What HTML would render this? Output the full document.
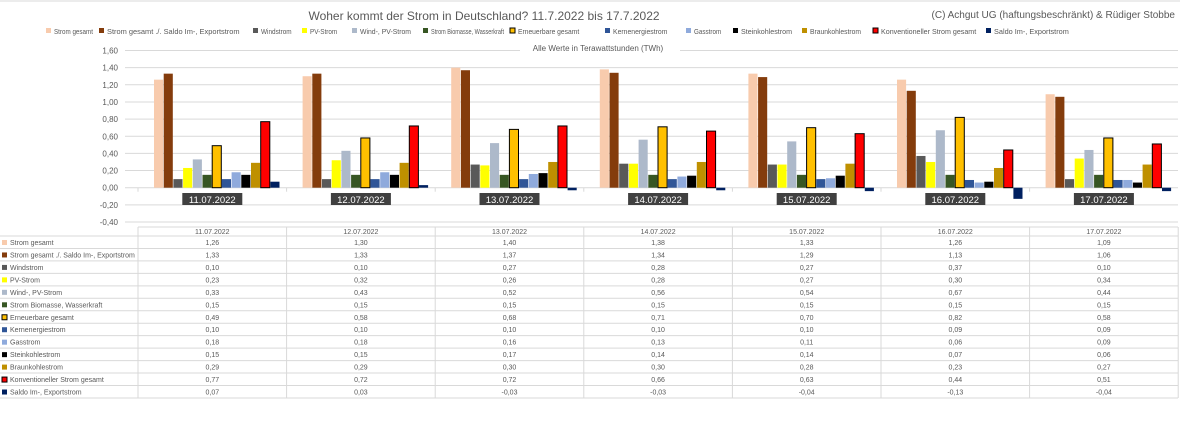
<!DOCTYPE html>
<html><head><meta charset="utf-8"><style>
body{margin:0;background:#fff;width:1180px;height:417px;overflow:hidden;font-family:"Liberation Sans",sans-serif}
svg text{font-family:"Liberation Sans",sans-serif}
</style></head><body>
<svg id="s" width="1180" height="417" xmlns="http://www.w3.org/2000/svg"></svg>
<script>
const S=document.getElementById('s');let h='';
h+='<rect x="0" y="0" width="1180" height="417" fill="#fff"/><line x1="0" y1="1" x2="1180" y2="1" stroke="#d9d9d9"/>';
h+='<text x="484" y="20" font-size="12" fill="#595959" text-anchor="middle">Woher kommt der Strom in Deutschland? 11.7.2022 bis 17.7.2022</text>';
h+='<text x="1175" y="18" font-size="10" fill="#595959" text-anchor="end">(C) Achgut UG (haftungsbeschränkt) &amp; Rüdiger Stobbe</text>';
const ser=[["Strom gesamt","#F8CBAD",0],["Strom gesamt ./. Saldo Im-, Exportstrom","#843C0C",0],["Windstrom","#595959",0],["PV-Strom","#FFFF00",0],["Wind-, PV-Strom","#ADB9CA",0],["Strom Biomasse, Wasserkraft","#375623",0],["Erneuerbare gesamt","#FFC000",1],["Kernenergiestrom","#2F5597",0],["Gasstrom","#8FAADC",0],["Steinkohlestrom","#000000",0],["Braunkohlestrom","#BF9000",0],["Konventioneller Strom gesamt","#FF0000",1],["Saldo Im-, Exportstrom","#002060",0]];
const data=[[1.26,1.30,1.40,1.38,1.33,1.26,1.09],[1.33,1.33,1.37,1.34,1.29,1.13,1.06],[0.10,0.10,0.27,0.28,0.27,0.37,0.10],[0.23,0.32,0.26,0.28,0.27,0.30,0.34],[0.33,0.43,0.52,0.56,0.54,0.67,0.44],[0.15,0.15,0.15,0.15,0.15,0.15,0.15],[0.49,0.58,0.68,0.71,0.70,0.82,0.58],[0.10,0.10,0.10,0.10,0.10,0.09,0.09],[0.18,0.18,0.16,0.13,0.11,0.06,0.09],[0.15,0.15,0.17,0.14,0.14,0.07,0.06],[0.29,0.29,0.30,0.30,0.28,0.23,0.27],[0.77,0.72,0.72,0.66,0.63,0.44,0.51],[0.07,0.03,-0.03,-0.03,-0.04,-0.13,-0.04]];
const dates=["11.07.2022","12.07.2022","13.07.2022","14.07.2022","15.07.2022","16.07.2022","17.07.2022"];
const lx=[46,99,253,302,352,423,510,605,686,733,802,873,986];
ser.forEach((s,i)=>{const tl=Math.min(s[0].length*3.4,(i<12?lx[i+1]-lx[i]-14:200));h+=`<rect x="${lx[i]}" y="28" width="5" height="5" fill="${s[1]}" ${s[2]?'stroke="#000" stroke-width="1"':''}/><text x="${lx[i]+8}" y="34" font-size="7.5" fill="#595959" textLength="${tl}" lengthAdjust="spacingAndGlyphs">${s[0]}</text>`});
const z=187.7,u=17.15/0.2;
for(let k=-2;k<=8;k++){const v=k*0.2,y=z-v*u;h+=`<line x1="125" y1="${y}" x2="1178" y2="${y}" stroke="#d9d9d9" stroke-width="1"/><text x="118" y="${y+3}" font-size="8" fill="#595959" text-anchor="end">${v.toFixed(2).replace('.',',').replace('-0,00','0,00')}</text>`;}
h+='<rect x="520" y="42" width="160" height="10" fill="#fff"/><text x="598" y="51" font-size="8" fill="#595959" text-anchor="middle">Alle Werte in Terawattstunden (TWh)</text>';
const g0=138,gw=148.6,bw=9.7;
for(let d=0;d<7;d++){const gx=g0+d*gw;
 ser.forEach((s,i)=>{const v=data[i][d];const x=gx+16+i*bw;const y=v>=0?z-v*u:z;const hh=Math.abs(v)*u;
 h+=`<rect x="${x}" y="${y}" width="${bw-0.6}" height="${hh}" fill="${s[1]}" ${s[2]?'stroke="#000" stroke-width="1"':''}/>`;});
 const cx=gx+gw/2;h+=`<line x1="${gx}" y1="${z}" x2="${gx}" y2="${z+4}" stroke="#d9d9d9"/>`;
 h+=`<rect x="${cx-30}" y="193" width="60" height="12" fill="#404040"/><text x="${cx}" y="203" font-size="9.5" fill="#fff" text-anchor="middle">${dates[d]}</text>`;}
const ty=227,rh=12.46,r0=236;
h+=`<line x1="138" y1="${ty}" x2="1178" y2="${ty}" stroke="#d9d9d9"/>`;
for(let r=0;r<=13;r++){const y=r0+r*rh;h+=`<line x1="0" y1="${y}" x2="1178" y2="${y}" stroke="#d9d9d9"/>`;}
for(let c=0;c<=7;c++){const x=g0+c*gw;h+=`<line x1="${x}" y1="${ty}" x2="${x}" y2="${r0+13*rh}" stroke="#d9d9d9"/>`;}
dates.forEach((d,c)=>{h+=`<text x="${g0+c*gw+gw/2}" y="${ty+7}" font-size="7" fill="#595959" text-anchor="middle">${d}</text>`;});
ser.forEach((s,i)=>{const y=r0+i*rh;h+=`<rect x="2" y="${y+4}" width="5" height="5" fill="${s[1]}" ${s[2]?'stroke="#000" stroke-width="1"':''}/><text x="10" y="${y+9}" font-size="7" fill="#595959">${s[0]}</text>`;
 data[i].forEach((v,c)=>{h+=`<text x="${g0+c*gw+gw/2}" y="${y+9}" font-size="7" fill="#595959" text-anchor="middle">${v.toFixed(2).replace('.',',')}</text>`;});});
S.innerHTML=h;
</script>
</body></html>
